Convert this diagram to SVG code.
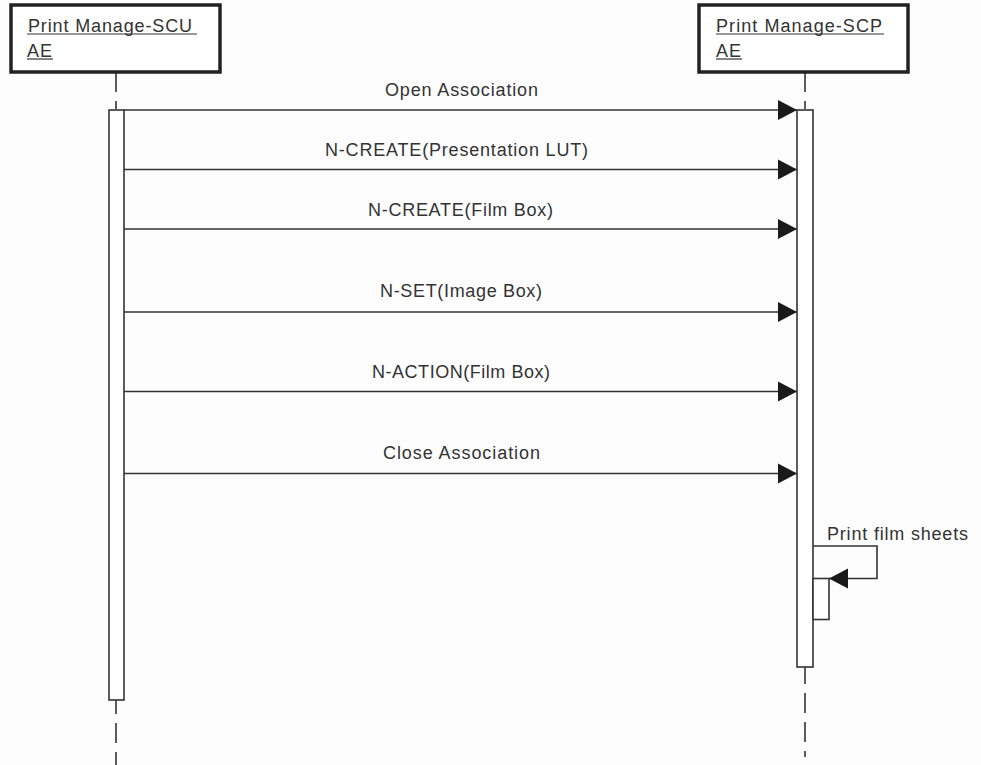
<svg xmlns="http://www.w3.org/2000/svg" width="981" height="765" viewBox="0 0 981 765">
<defs>
<style>
text{font-family:"Liberation Sans",Arial,sans-serif;font-size:18px;fill:#333;}
.box{fill:#fff;stroke:#222;stroke-width:3.5;}
.act{fill:#fff;stroke:#333;stroke-width:1.6;}
.life{stroke:#333;stroke-width:1.6;stroke-dasharray:20 9;fill:none;}
.msg{stroke:#333;stroke-width:1.6;fill:none;}
.ul{stroke:#333;stroke-width:1.2;}
.lbl{text-anchor:middle;}
</style>
<marker id="ah" markerWidth="20" markerHeight="22" refX="19" refY="11" orient="auto" markerUnits="userSpaceOnUse">
<path d="M0,1 L19,11 L0,21 Z" fill="#1a1a1a"/>
</marker>
</defs>
<rect width="981" height="765" fill="#fdfdfe"/>

<g id="connectors">
<line class="life" x1="116" y1="72" x2="116" y2="109"/>
<line class="life" x1="805" y1="72" x2="805" y2="109"/>
<line class="life" x1="116" y1="700" x2="116" y2="765" stroke-dashoffset="6"/>
<line class="life" x1="805" y1="667" x2="805" y2="757" stroke-dashoffset="3"/>
<line class="msg" x1="124" y1="110" x2="797" y2="110" marker-end="url(#ah)"/>
<line class="msg" x1="124" y1="169.5" x2="797" y2="169.5" marker-end="url(#ah)"/>
<line class="msg" x1="124" y1="229" x2="797" y2="229" marker-end="url(#ah)"/>
<line class="msg" x1="124" y1="312" x2="797" y2="312" marker-end="url(#ah)"/>
<line class="msg" x1="124" y1="391.5" x2="797" y2="391.5" marker-end="url(#ah)"/>
<line class="msg" x1="124" y1="473.5" x2="797" y2="473.5" marker-end="url(#ah)"/>
<polyline class="msg" points="813,546 877,546 877,578.5 829,578.5" marker-end="url(#ah)"/>
</g>

<g id="scu">
<rect class="box" x="11" y="5" width="209" height="67"/>
<text x="28" y="32" textLength="164" lengthAdjust="spacing">Print Manage-SCU</text>
<line class="ul" x1="27" y1="34" x2="197" y2="34"/>
<text x="27" y="57" textLength="25" lengthAdjust="spacing">AE</text>
<line class="ul" x1="27" y1="59" x2="53" y2="59"/>
<rect class="act" x="109" y="110" width="15" height="590"/>
</g>

<g id="scp">
<rect class="box" x="699" y="5" width="209" height="67"/>
<text x="716" y="32" textLength="166" lengthAdjust="spacing">Print Manage-SCP</text>
<line class="ul" x1="716" y1="34" x2="884" y2="34"/>
<text x="716" y="57" textLength="25" lengthAdjust="spacing">AE</text>
<line class="ul" x1="716" y1="59" x2="742" y2="59"/>
<rect class="act" x="797" y="110" width="16" height="557"/>
<rect class="act" x="813" y="578.5" width="16" height="41"/>
</g>

<g id="labels">
<text class="lbl" x="461.5" y="96" textLength="153" lengthAdjust="spacing">Open Association</text>
<text class="lbl" x="456.5" y="156" textLength="263" lengthAdjust="spacing">N-CREATE(Presentation LUT)</text>
<text class="lbl" x="460.5" y="216" textLength="185" lengthAdjust="spacing">N-CREATE(Film Box)</text>
<text class="lbl" x="461" y="297" textLength="162" lengthAdjust="spacing">N-SET(Image Box)</text>
<text class="lbl" x="461" y="378" textLength="178" lengthAdjust="spacing">N-ACTION(Film Box)</text>
<text class="lbl" x="461.5" y="459" textLength="157" lengthAdjust="spacing">Close Association</text>
<text x="827" y="540" textLength="141" lengthAdjust="spacing">Print film sheets</text>
</g>
</svg>
